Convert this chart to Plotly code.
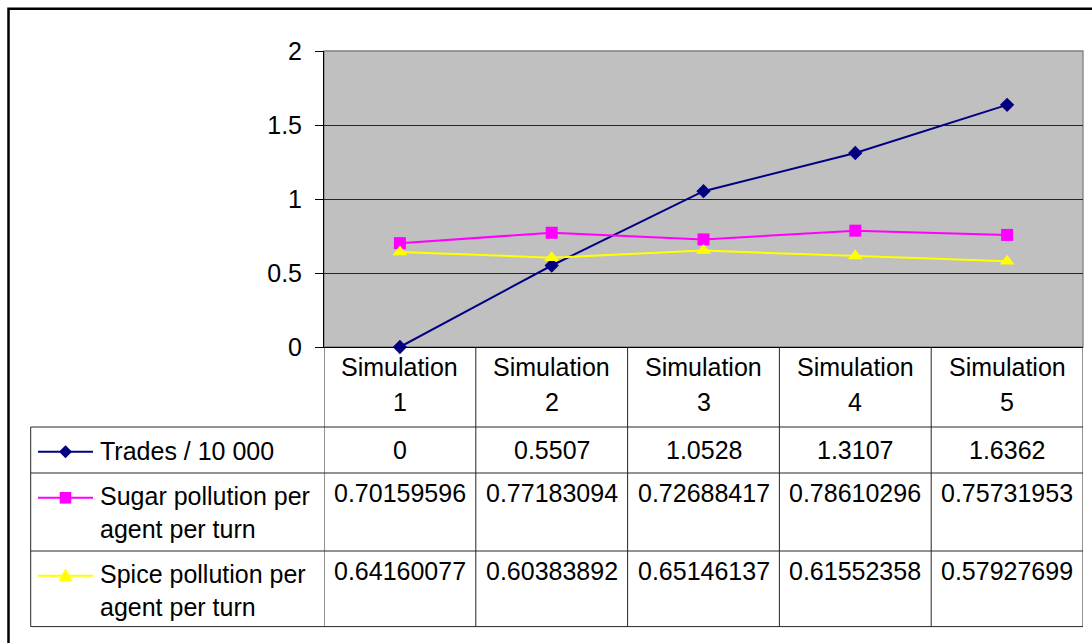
import plotly.graph_objects as go

# ---------------- data ----------------
categories = ["Simulation 1", "Simulation 2", "Simulation 3", "Simulation 4", "Simulation 5"]
trades = [0, 0.5507, 1.0528, 1.3107, 1.6362]
sugar = [0.70159596, 0.77183094, 0.72688417, 0.78610296, 0.75731953]
spice = [0.64160077, 0.60383892, 0.65146137, 0.61552358, 0.57927699]
series_names = ["Trades / 10 000",
                "Sugar pollution per\nagent per turn",
                "Spice pollution per\nagent per turn"]
y_ticks = [0, 0.5, 1, 1.5, 2]

# ---------------- styling ----------------
FONT = "Liberation Sans, Arial, sans-serif"
FS = 25
colors = ["#000080", "#FF00FF", "#FFFF00"]
symbols = ["diamond", "square", "triangle-up"]
msizes = [11, 12, 13]
series = [trades, sugar, spice]

# pixel geometry helpers (layout only)
L, R, T, B = 324.0, 1083.0, 50.7, 346.7
W, H = R - L, B - T
def px(x):
    return (x - L) / W
def py(y):
    return (B - y) / H

fig = go.Figure()
for vals, name, c, s, ms in zip(series, series_names, colors, symbols, msizes):
    fig.add_trace(go.Scatter(
        x=categories, y=vals, mode="lines+markers", name=name.replace("\n", " "),
        line=dict(color=c, width=2),
        marker=dict(symbol=s, size=ms, color=c, line=dict(width=0)),
        cliponaxis=False, showlegend=False))

shapes = []
annotations = []
GRID = "#262626"

# outer chart border (extends beyond canvas on right/bottom)
shapes.append(dict(type="rect", xref="paper", yref="paper",
                   x0=px(8.5), x1=px(1300), y0=py(8.5), y1=py(900),
                   line=dict(color="black", width=2.5), layer="above"))
# plot area border (gray)
shapes.append(dict(type="rect", xref="paper", yref="paper", x0=0, x1=1, y0=0, y1=1,
                   line=dict(color="#808080", width=1.3), layer="between"))

# table: row boundaries (pixels)
row_lines = [426.7, 472.7, 550.7, 626.3]
TL = 30.7
for yy in row_lines:
    shapes.append(dict(type="line", xref="paper", yref="paper",
                       x0=px(TL), x1=1, y0=py(yy), y1=py(yy),
                       line=dict(color=GRID, width=1)))
shapes.append(dict(type="line", xref="paper", yref="paper",
                   x0=px(TL), x1=px(TL), y0=py(row_lines[0]), y1=py(row_lines[-1]),
                   line=dict(color=GRID, width=1)))
for i in range(len(categories) + 1):
    shapes.append(dict(type="line", xref="x", yref="paper",
                       x0=i - 0.5, x1=i - 0.5, y0=0, y1=py(row_lines[-1]),
                       line=dict(color=GRID, width=1)))

# header (category labels, two lines)
for i, cat in enumerate(categories):
    parts = cat.split(" ")
    for j, (part, yy) in enumerate(zip(parts, [366.7, 401.5])):
        annotations.append(dict(x=i, y=py(yy), xref="x", yref="paper", text=part,
                                showarrow=False, xanchor="center", yanchor="middle",
                                font=dict(family=FONT, size=FS, color="black")))

# value cells
value_y = [449.3, 493.0, 570.7]
for vals, yy in zip(series, value_y):
    for i, v in enumerate(vals):
        annotations.append(dict(x=i, y=py(yy), xref="x", yref="paper",
                                text=f"{v:.10g}", showarrow=False,
                                xanchor="center", yanchor="middle",
                                font=dict(family=FONT, size=FS, color="black")))

# legend keys + names
key_y = [451.5, 497.5, 575.5]
text_y = [[451.0], [495.5, 528.5], [573.5, 606.5]]
for k, (name, c, ky) in enumerate(zip(series_names, colors, key_y)):
    shapes.append(dict(type="line", xref="paper", yref="paper",
                       x0=px(38), x1=px(93), y0=py(ky), y1=py(ky),
                       line=dict(color=c, width=2)))
    cx = 65.5
    if k == 0:
        h = 6.5
        path = (f"M{px(cx - h)},{py(ky)} L{px(cx)},{py(ky - h)} "
                f"L{px(cx + h)},{py(ky)} L{px(cx)},{py(ky + h)} Z")
    elif k == 1:
        h = 5.8
        path = (f"M{px(cx - h)},{py(ky - h)} L{px(cx + h)},{py(ky - h)} "
                f"L{px(cx + h)},{py(ky + h)} L{px(cx - h)},{py(ky + h)} Z")
    else:
        h = 7
        path = (f"M{px(cx - h)},{py(ky + 5.5)} L{px(cx + h)},{py(ky + 5.5)} "
                f"L{px(cx)},{py(ky - 7.5)} Z")
    shapes.append(dict(type="path", xref="paper", yref="paper", path=path,
                       fillcolor=c, line=dict(color=c, width=0)))
    for line_txt, ty in zip(name.split("\n"), text_y[k]):
        annotations.append(dict(x=px(97.5), y=py(ty), xref="paper", yref="paper",
                                text=line_txt, showarrow=False,
                                xanchor="left", yanchor="middle",
                                font=dict(family=FONT, size=FS, color="black")))

fig.update_layout(
    width=1092, height=643, autosize=False,
    margin=dict(l=L, r=1092 - R, t=T, b=643 - B, pad=0),
    paper_bgcolor="white", plot_bgcolor="#C0C0C0",
    font=dict(family=FONT, size=FS, color="black"),
    shapes=shapes, annotations=annotations,
    xaxis=dict(type="category", range=[-0.5, len(categories) - 0.5],
               showticklabels=False, showgrid=False, zeroline=False,
               showline=True, linecolor="black", linewidth=1, ticks="",
               fixedrange=True),
    yaxis=dict(range=[0, 2], tickvals=y_ticks, ticktext=[f"{v:g}" for v in y_ticks],
               showgrid=True, gridcolor="#262626", gridwidth=1, zeroline=False,
               showline=True, linecolor="black", linewidth=1,
               ticks="outside", ticklen=8, tickcolor="black", tickwidth=1,
               ticklabelstandoff=8,
               tickfont=dict(family=FONT, size=FS, color="black"),
               fixedrange=True),
)

fig.write_html("out.html")
